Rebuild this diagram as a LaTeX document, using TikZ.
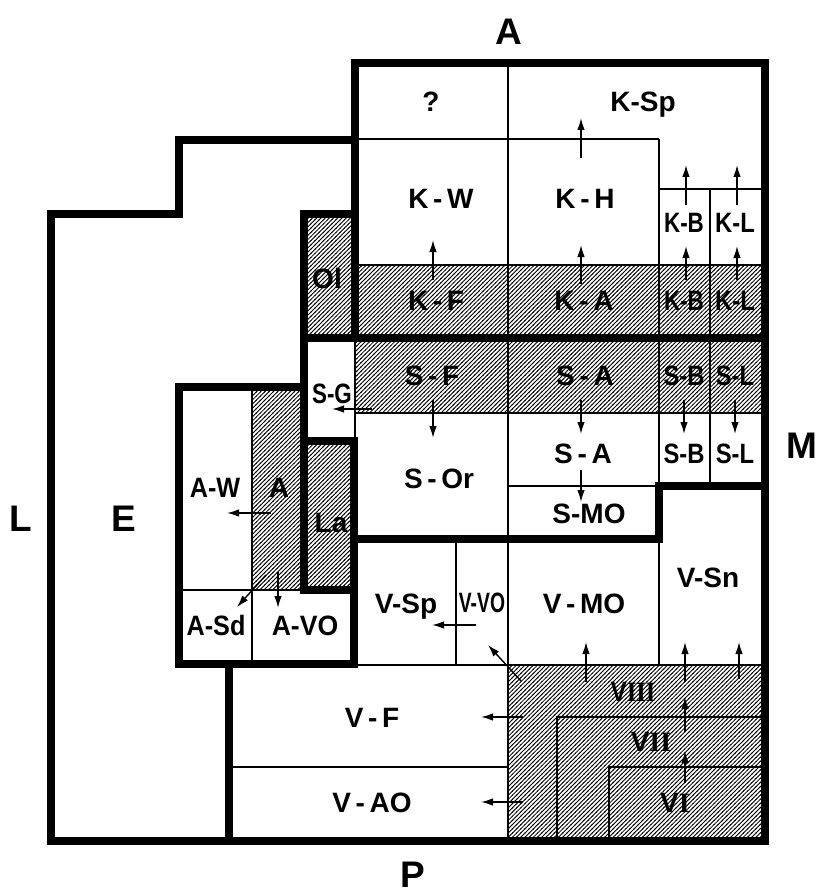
\documentclass[tikz,border=0pt]{standalone}
\usepackage{fontspec}
\setmainfont{Liberation Sans}
\newfontfamily\romfont{Liberation Serif}
\usepackage{graphicx}
\usetikzlibrary{arrows.meta,patterns}
\pgfdeclarepatternformonly{hatch}{\pgfqpoint{-1pt}{-1pt}}{\pgfqpoint{5.2pt}{5.2pt}}{\pgfqpoint{4.2pt}{4.2pt}}{%
  \pgfsetlinewidth{0.85pt}%
  \pgfpathmoveto{\pgfqpoint{-0.5pt}{-0.5pt}}%
  \pgfpathlineto{\pgfqpoint{4.7pt}{4.7pt}}%
  \pgfusepath{stroke}}
\newcommand\nar[2]{\scalebox{#1}[1]{#2}}
\tikzset{
  thk/.style={line width=7.5pt, line cap=rect, line join=miter},
  thn/.style={line width=1.3pt},
  hat/.style={pattern=hatch},
  arr/.style={line width=1.4pt, -{Latex[length=12pt,width=7.5pt]}},
  lbl/.style={font=\fontsize{28}{30}\selectfont\bfseries, inner sep=0pt, text height=20pt, text depth=0pt},
  big/.style={font=\fontsize{37}{40}\selectfont\bfseries, inner sep=0pt, text height=26pt, text depth=0pt},
}
\begin{document}
\begin{tikzpicture}[x=1pt,y=-1pt]
\useasboundingbox (0,0) rectangle (818,896);
% hatched areas
\fill[hat] (304,214) rectangle (355,338);
\fill[hat] (355,265) rectangle (765,338);
\fill[hat] (355,338) rectangle (765,413);
\fill[hat] (252,387) rectangle (304,590);
\fill[hat] (304,441) rectangle (354,590);
\fill[hat] (508,665) rectangle (765,841);
% thin lines
\draw[thn] (355,139) -- (659,139);
\draw[thn] (508,63) -- (508,841);
\draw[thn] (659,139) -- (659,665);
\draw[thn] (659,189) -- (765,189);
\draw[thn] (710,189) -- (710,486);
\draw[thn] (355,265) -- (765,265);
\draw[thn] (355,413) -- (765,413);
\draw[thn] (508,486) -- (659,486);
\draw[thn] (355,338) -- (355,441);
\draw[thn] (252,387) -- (252,664);
\draw[thn] (179,590) -- (304,590);
\draw[thn] (456,539) -- (456,665);
\draw[thn] (355,665) -- (765,665);
\draw[thn] (229,767) -- (508,767);
\draw[thn] (557,841) -- (557,717) -- (765,717);
\draw[thn] (609,841) -- (609,767) -- (765,767);
% thick lines
\draw[thk] (355,338) -- (355,63) -- (765,63) -- (765,841) -- (51,841) -- (51,214) -- (179,214) -- (179,140) -- (355,140);
\draw[thk] (355,214) -- (304,214) -- (304,590) -- (354,590);
\draw[thk] (304,338) -- (765,338);
\draw[thk] (304,441) -- (354,441) -- (354,664);
\draw[thk] (304,387) -- (179,387) -- (179,664) -- (354,664);
\draw[thk] (354,539) -- (659,539) -- (659,486) -- (765,486);
\draw[thk] (229,664) -- (229,841);
% arrows
\draw[arr] (581,158) -- (581,118);
\draw[arr] (433,280) -- (433,240);
\draw[arr] (581,284) -- (581,245);
\draw[arr] (686,280) -- (686,246);
\draw[arr] (737,280) -- (737,246);
\draw[arr] (686,205) -- (686,165);
\draw[arr] (737,205) -- (737,165);
\draw[arr] (433,400) -- (433,438);
\draw[arr] (581,400) -- (581,434);
\draw[arr] (684,400) -- (684,434);
\draw[arr] (735,400) -- (735,434);
\draw[arr] (581,470) -- (581,502);
\draw[arr] (372,409) -- (332,409);
\draw[arr] (271,513) -- (227,513);
\draw[arr] (266,575) -- (237,607);
\draw[arr] (278,572) -- (278,608);
\draw[arr] (476,625) -- (432,625);
\draw[arr] (521,681) -- (488,645);
\draw[arr] (586,682) -- (586,642);
\draw[arr] (685,682) -- (685,642);
\draw[arr] (739,679) -- (739,642);
\draw[arr] (685,732) -- (685,697);
\draw[arr] (685,783) -- (685,751);
\draw[arr] (523,717) -- (481,717);
\draw[arr] (523,802) -- (481,802);
% big letters
\node[big] (nA) at (509,32) {A};
\node[big] (nP) at (413,874) {P};
\node[big] (nL) at (21,518) {L};
\node[big] (nE) at (124,518) {E};
\node[big] (nM) at (802,445) {M};
% labels
\node[lbl] (q)   at (431,102) {?};
\node[lbl] (ksp) at (643,102) {K-Sp};
\node[lbl] (kw)  at (441,198) {K\,-\,W};
\node[lbl] (kh)  at (585,198) {K\,-\,H};
\node[lbl] (kb1) at (684,222) {\nar{0.8}{K-B}};
\node[lbl] (kl1) at (735,222) {\nar{0.85}{K-L}};
\node[lbl] (kf)  at (436,300) {K\,-\,F};
\node[lbl] (ka)  at (584,300) {K\,-\,A};
\node[lbl] (kb2) at (684,300) {\nar{0.8}{K-B}};
\node[lbl] (kl2) at (735,300) {\nar{0.85}{K-L}};
\node[lbl] (ol)  at (327,278) {Ol};
\node[lbl] (sg)  at (332,393) {\nar{0.8}{S-G}};
\node[lbl] (sf)  at (432,375) {S\,-\,F};
\node[lbl] (sa1) at (585,375) {S\,-\,A};
\node[lbl] (sb1) at (684,375) {\nar{0.85}{S-B}};
\node[lbl] (sl1) at (735,375) {\nar{0.85}{S-L}};
\node[lbl] (sor) at (439,478) {S\,-\,Or};
\node[lbl] (sa2) at (583,453) {S\,-\,A};
\node[lbl] (sb2) at (684,453) {\nar{0.85}{S-B}};
\node[lbl] (sl2) at (735,453) {\nar{0.85}{S-L}};
\node[lbl] (smo) at (589,513) {S-MO};
\node[lbl] (aw)  at (215,487) {\nar{0.9}{A-W}};
\node[lbl] (aa)  at (279,487) {A};
\node[lbl] (la)  at (331,522) {La};
\node[lbl] (asd) at (216,625) {\nar{0.9}{A-Sd}};
\node[lbl] (avo) at (305,625) {\nar{0.95}{A-VO}};
\node[lbl] (vsp) at (406,603) {V-Sp};
\node[lbl] (vvo) at (482,602) {\nar{0.69}{V-VO}};
\node[lbl] (vmo) at (584,603) {V\,-\,MO};
\node[lbl] (vsn) at (708,577) {V-Sn};
\node[lbl] (vf)  at (372,717) {V\,-\,F};
\node[lbl] (vao) at (372,802) {V\,-\,AO};
\node[lbl] (v3)  at (633,691) {\nar{0.87}{V{\romfont III}}};
\node[lbl] (v2)  at (651,741) {V{\romfont II}};
\node[lbl] (v1)  at (675,802) {V{\romfont I}};
\end{tikzpicture}
\end{document}
